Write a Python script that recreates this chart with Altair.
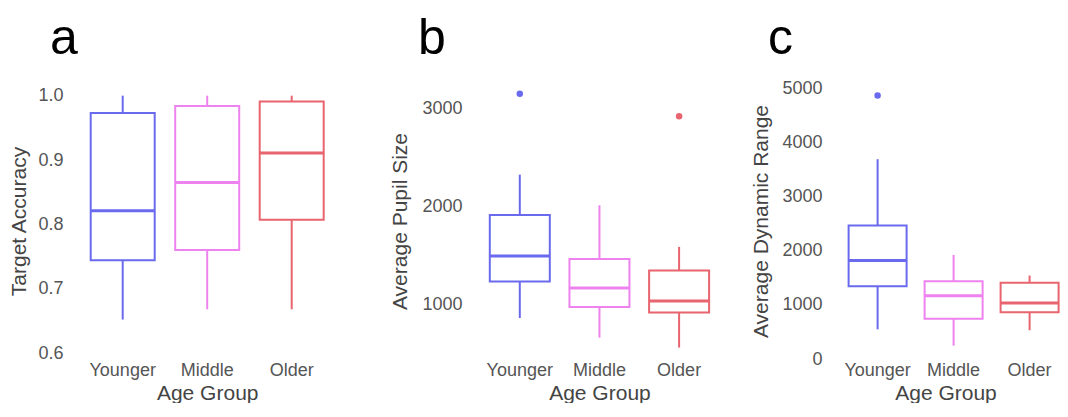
import altair as alt
import pandas as pd

groups = ["Younger", "Middle", "Older"]
colors = ["#6a6aee", "#ee82ee", "#e8646e"]

# Panel a: Target Accuracy
acc_lower = [0.652, 0.668, 0.668]
acc_q1 = [0.744, 0.760, 0.807]
acc_median = [0.821, 0.865, 0.911]
acc_q3 = [0.973, 0.984, 0.991]
acc_upper = [1.0, 1.0, 1.0]
acc_out_group = []
acc_out_value = []

# Panel b: Average Pupil Size
pup_lower = [860, 660, 559]
pup_q1 = [1232, 973, 916]
pup_median = [1494, 1167, 1034]
pup_q3 = [1912, 1463, 1344]
pup_upper = [2323, 2010, 1586]
pup_out_group = ["Younger", "Older"]
pup_out_value = [3149, 2918]

# Panel c: Average Dynamic Range
dyn_lower = [549, 248, 533]
dyn_q1 = [1345, 745, 866]
dyn_median = [1824, 1169, 1036]
dyn_q3 = [2473, 1442, 1411]
dyn_upper = [3700, 1927, 1545]
dyn_out_group = ["Younger"]
dyn_out_value = [4878]

FONT = "Liberation Sans"
H = 276


def panel(letter, ytitle, lower, q1, med, q3, upper, og, ov, ydomain, yticks, yfmt,
          width, xscale, box_w, title_dx, title_off, ylab_pad, ytitle_pad, xlab_pad):
    stats = pd.DataFrame({"group": groups, "lower": lower, "q1": q1, "median": med,
                          "q3": q3, "upper": upper})
    outs = pd.DataFrame({"group": og, "value": ov})
    xsc = alt.Scale(domain=groups, **xscale)
    xs = alt.X("group:N", sort=groups, scale=xsc,
               axis=alt.Axis(title="Age Group", labelAngle=0, labelPadding=xlab_pad, titlePadding=3))
    ysc = alt.Scale(domain=ydomain, nice=False, zero=False)
    yax = alt.Axis(title=ytitle, values=yticks, format=yfmt, labelPadding=ylab_pad,
                   titlePadding=ytitle_pad)
    col = alt.Color("group:N", scale=alt.Scale(domain=groups, range=colors), legend=None)
    base = alt.Chart(stats)
    w_lo = base.mark_rule(strokeWidth=2).encode(
        x=xs, y=alt.Y("lower:Q", scale=ysc, axis=yax), y2="q1:Q", color=col)
    w_hi = base.mark_rule(strokeWidth=2).encode(
        x=xs, y=alt.Y("q3:Q", scale=ysc), y2="upper:Q", color=col)
    box = base.mark_bar(size=box_w, fill="white", strokeWidth=2).encode(
        x=xs, y=alt.Y("q1:Q", scale=ysc), y2="q3:Q",
        stroke=alt.Stroke("group:N", scale=alt.Scale(domain=groups, range=colors), legend=None))
    medl = base.mark_tick(size=box_w, thickness=3, opacity=1).encode(
        x=xs, y=alt.Y("median:Q", scale=ysc), color=col)
    layers = [w_lo, w_hi, box, medl]
    if len(og) > 0:
        pts = alt.Chart(outs).mark_circle(size=42, opacity=1).encode(
            x=alt.X("group:N", sort=groups, scale=xsc),
            y=alt.Y("value:Q", scale=ysc), color=col)
        layers.append(pts)
    return alt.layer(*layers).properties(
        width=width, height=H,
        title=alt.TitleParams(text=letter, anchor="start", frame="group", fontSize=50,
                              font=FONT, fontWeight="normal", color="black",
                              dx=title_dx, offset=title_off, baseline="alphabetic"))


pa = panel("a", "Target Accuracy", acc_lower, acc_q1, acc_median, acc_q3, acc_upper,
           acc_out_group, acc_out_value, [0.5907, 1.0197], [0.6, 0.7, 0.8, 0.9, 1.0], ".1f",
           379.6, dict(paddingInner=0, paddingOuter=0.1, range=[0, 270.4]), 64, -22, -21.4, 9, 8, 2)
pb = panel("b", "Average Pupil Size", pup_lower, pup_q1, pup_median, pup_q3, pup_upper,
           pup_out_group, pup_out_value, [442, 3258], [1000, 2000, 3000], "d",
           339.1, dict(paddingInner=0, paddingOuter=0.1, range=[0, 254.9]), 60, -54, -21.2, 10, 11, 2)
pc = panel("c", "Average Dynamic Range", dyn_lower, dyn_q1, dyn_median, dyn_q3, dyn_upper,
           dyn_out_group, dyn_out_value, [0, 5111], [0, 1000, 2000, 3000, 4000, 5000], "d",
           227, dict(paddingInner=0.5, paddingOuter=0.2435, align=0.719), 58, -64, -23.8, 10, 10.5, 2)

chart = alt.hconcat(pa, pb, pc, spacing=20, bounds="flush").properties(
    padding={"left": 0, "top": 5, "right": 0, "bottom": 0},
    background="white"
).configure_view(stroke=None).configure_axis(
    grid=False, domain=False, ticks=False,
    labelFont=FONT, labelFontSize=18, labelColor="#555555",
    titleFont=FONT, titleFontSize=21, titleColor="#444444", titleFontWeight="normal"
)

chart.save("out.html", embed_options={"renderer": "svg", "actions": False})
